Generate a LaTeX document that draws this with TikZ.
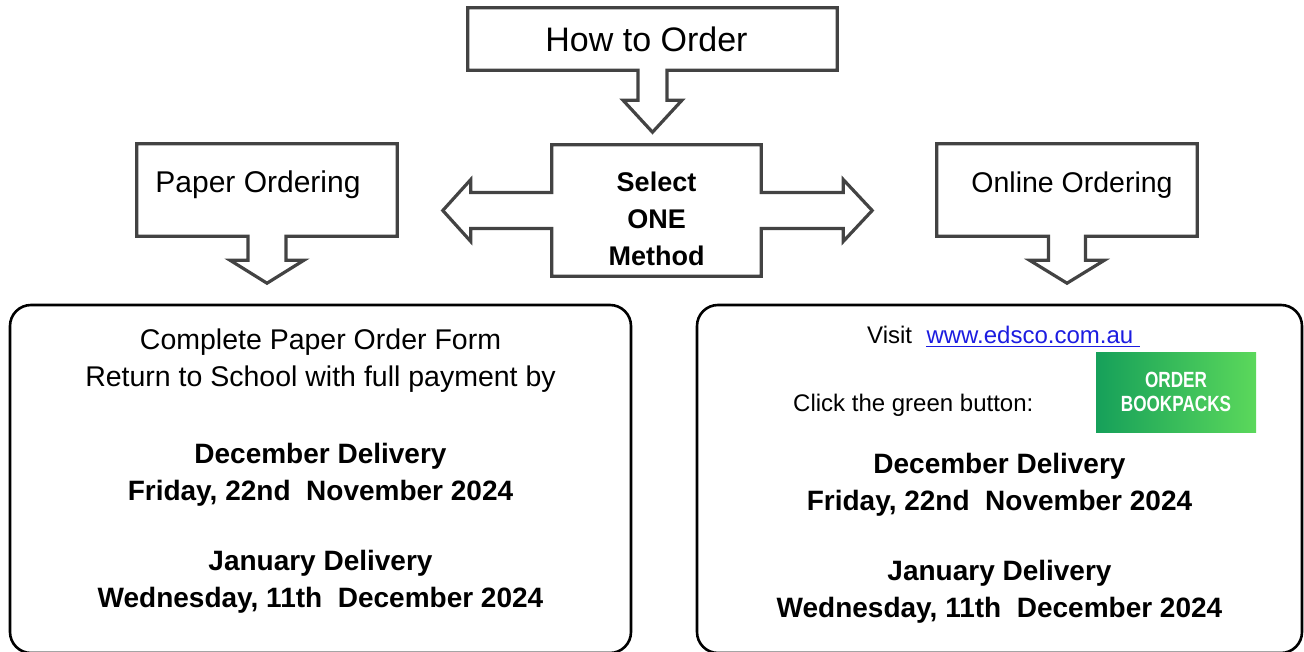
\documentclass[tikz,border=0pt]{standalone}
\usepackage{fontspec}
\setmainfont{Liberation Sans}
\definecolor{outline}{HTML}{434343}
\definecolor{link}{HTML}{1C1CE0}
\definecolor{btnleft}{HTML}{16A05A}
\definecolor{btnright}{HTML}{5BD85B}
\tikzstyle{callout}=[draw=outline, line width=3.2pt]
\tikzstyle{shapebox}=[rectangle, draw=none, inner sep=0pt]
\tikzstyle{panel}=[rectangle, draw=black, line width=2.6pt, rounded corners=21pt, inner sep=0pt]
\tikzstyle{title}=[inner sep=0pt, font=\fontsize{34}{40}\selectfont]
\tikzstyle{subtitle}=[inner sep=0pt, font=\fontsize{30}{36}\selectfont]
\tikzstyle{method}=[inner sep=0pt, align=center, font=\bfseries\fontsize{27}{37}\selectfont]
\tikzstyle{plain}=[anchor=base, inner sep=0pt, font=\fontsize{28.5}{34}\selectfont]
\tikzstyle{strong}=[anchor=base, inner sep=0pt, font=\bfseries\fontsize{28}{34}\selectfont]
\tikzstyle{small}=[anchor=base west, inner sep=0pt, font=\fontsize{24}{29}\selectfont]
\tikzstyle{button}=[rectangle, inner sep=0pt, minimum width=160pt, minimum height=80pt,
left color=btnleft, right color=btnright, text=white, align=center,
font=\bfseries\fontsize{22}{24}\selectfont]
\usetikzlibrary{positioning,calc}

\begin{document}
\begin{tikzpicture}[x=1pt, y=-1pt]
            \useasboundingbox (0,0) rectangle (1304,652);

            % TOP PART

            \node[shapebox, minimum width=369pt, minimum height=62pt,
                  label={[title, xshift=-6pt]center:How to Order}] (order) at (652.5,39) {};
            \node[shapebox, minimum width=209pt, minimum height=131pt,
                  label={[method, yshift=-8pt]center:Select\\ONE\\Method}] (select) at (656.5,210.5) {};
            \node[shapebox, minimum width=260pt, minimum height=92pt,
                  label={[subtitle, xshift=-9pt, yshift=5pt]center:Paper Ordering}] (paper) at (267,190) {};
            \node[shapebox, minimum width=260pt, minimum height=92pt,
                  label={[subtitle, font=\fontsize{28.5}{34}\selectfont, xshift=5pt, yshift=5pt]center:Online Ordering}] (online) at (1067,190) {};

            \draw[callout] (order.north west) -- (order.north east) -- (order.south east)
                -- ($(order.south)+(14.5,0)$) -- ++(0,30) -- ++(15,0) -- ($(order.south)+(0,62)$)
                -- ($(order.south)+(-29.5,30)$) -- ++(15,0) -- ++(0,-30) -- (order.south west) -- cycle;

            \draw[callout] (select.north west) -- (select.north east) -- ($(select.east)+(0,-18)$)
                -- ++(82,0) -- ++(0,-13) -- ($(select.east)+(111,0)$) -- ($(select.east)+(82,31)$)
                -- ++(0,-13) -- ($(select.east)+(0,18)$) -- (select.south east) -- (select.south west)
                -- ($(select.west)+(0,18)$) -- ++(-81,0) -- ++(0,13) -- ($(select.west)+(-109,0)$)
                -- ($(select.west)+(-81,-31)$) -- ++(0,13) -- ($(select.west)+(0,-18)$) -- cycle;

            \draw[callout] (paper.north west) -- (paper.north east) -- (paper.south east)
                -- ($(paper.south)+(19,0)$) -- ++(0,24) -- ++(18,0) -- ($(paper.south)+(0,47)$)
                -- ($(paper.south)+(-37,24)$) -- ++(18,0) -- ++(0,-24) -- (paper.south west) -- cycle;

            \draw[callout] (online.north west) -- (online.north east) -- (online.south east)
                -- ($(online.south)+(18.5,0)$) -- ++(0,24) -- ++(19,0) -- ($(online.south)+(0,47)$)
                -- ($(online.south)+(-37.5,24)$) -- ++(19,0) -- ++(0,-24) -- (online.south west) -- cycle;

            % PAPER PART

            \node[panel, minimum width=621pt, minimum height=348pt] (paperbox) at (320.5,479) {};
            \node[plain] (form) at (320.5,349) {Complete Paper Order Form};
            \node[plain, below=37pt of form.base, anchor=base] (ret) {Return to School with full payment by};
            \node[strong] (paperdec) at (320.5,463) {December Delivery};
            \node[strong, below=37pt of paperdec.base, anchor=base] (paperfri) {Friday, 22nd\ \ November 2024};
            \node[strong] (paperjan) at (320.5,570) {January Delivery};
            \node[strong, below=37pt of paperjan.base, anchor=base] (paperwed) {Wednesday, 11th\ \ December 2024};

            % ONLINE PART

            \node[panel, minimum width=605pt, minimum height=348pt] (onlinebox) at (999.5,479) {};
            \node[small] (visit) at (867,344) {Visit};
            \node[small, right=14pt of visit.base east, anchor=base west, text=link] (url) {www.edsco.com.au};
            \draw[link, line width=1.6pt] ($(url.base west)+(0,2.5)$) -- ($(url.base east)+(7,2.5)$);
            \node[small] (click) at (793,411) {Click the green button:};
            \node[button] (btn) at (1176,392) {\scalebox{0.78}[1]{ORDER}\\\scalebox{0.78}[1]{BOOKPACKS}};
            \node[strong] (onlinedec) at (999.5,473) {December Delivery};
            \node[strong, below=37pt of onlinedec.base, anchor=base] (onlinefri) {Friday, 22nd\ \ November 2024};
            \node[strong] (onlinejan) at (999.5,580) {January Delivery};
            \node[strong, below=37pt of onlinejan.base, anchor=base] (onlinewed) {Wednesday, 11th\ \ December 2024};

\end{tikzpicture}
\end{document}
